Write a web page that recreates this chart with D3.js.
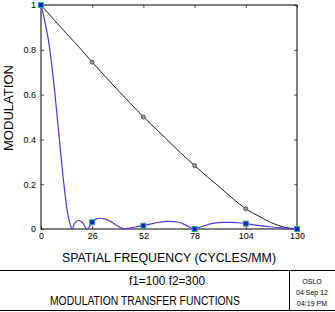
<!DOCTYPE html>
<html>
<head>
<meta charset="utf-8">
<script src="https://cdn.jsdelivr.net/npm/d3@7"></script>
<style>
body{margin:0;background:#fff;}
text{font-family:"Liberation Sans",Arial,sans-serif;fill:#000;}
</style>
</head>
<body>
<div id="chart"></div>
<script>
// tick values
var freqTicks=[0,26,52,78,104,130];
var modTicks=[0,0.2,0.4,0.6,0.8,1];

// diffraction limit curve (black)
var diffFreq=[0,6.5,13,19.5,26,32.5,39,45.5,52,58.5,65,71.5,78,84.5,91,97.5,104,110.5,117,123.5,130];
var diffMod=[1,0.935,0.872,0.81,0.745,0.682,0.62,0.56,0.5,0.446,0.39,0.335,0.283,0.233,0.185,0.135,0.09,0.058,0.028,0.008,0];

// real system curve (blue)
var mtfFreq=[0,1,2,3,4,5,6,7,8,9,10,11,12,13,14,15,15.8,17,19,21,23.4,26,28,30,33,36,39,42,45,48,52,56,60,64,68,71,74,77,78,80,84,88,92,96,100,104,110,116,122,126,130];
var mtfMod=[1,0.965,0.925,0.88,0.83,0.765,0.69,0.61,0.52,0.43,0.34,0.25,0.17,0.1,0.05,0.015,0,0.025,0.038,0.03,0,0.03,0.045,0.048,0.043,0.03,0.013,0,0.004,0.009,0.015,0.023,0.03,0.034,0.033,0.028,0.015,0.002,0,0.006,0.018,0.026,0.03,0.03,0.028,0.024,0.016,0.01,0.005,0.002,0];

// marker points
var markFreq=[0,26,52,78,104,130];
var diffMark=[1,0.745,0.5,0.283,0.09,0];
var mtfMark=[1,0.03,0.015,0,0.024,0];

var width=335, height=312;
var plotL=41, plotR=297, plotT=5, plotB=229;

var svg=d3.select("#chart").append("svg")
  .attr("width",width)
  .attr("height",height);

svg.append("rect").attr("width",width).attr("height",height).attr("fill","#fff");

var x=d3.scaleLinear().domain([0,130]).range([plotL,plotR]);
var y=d3.scaleLinear().domain([0,1]).range([plotB,plotT]);

// axes with inward ticks
var fmt=function(d){return String(d);};
svg.append("g").attr("class","axis")
  .attr("transform","translate("+plotL+",0)")
  .call(d3.axisLeft(y).tickValues(modTicks).tickSize(-3).tickPadding(5).tickFormat(fmt));
svg.append("g").attr("class","axis")
  .attr("transform","translate("+plotR+",0)")
  .call(d3.axisRight(y).tickValues(modTicks).tickSize(-3).tickFormat(""));
svg.append("g").attr("class","axis")
  .attr("transform","translate(0,"+plotB+")")
  .call(d3.axisBottom(x).tickValues(freqTicks).tickSize(-3).tickPadding(4).tickFormat(fmt));
svg.append("g").attr("class","axis")
  .attr("transform","translate(0,"+plotT+")")
  .call(d3.axisTop(x).tickValues(freqTicks).tickSize(-3).tickFormat(""));

svg.selectAll(".axis .domain").remove();
svg.selectAll(".axis line").attr("stroke","#555");
svg.selectAll(".axis text").style("font-size","9px").attr("fill","#000");

// frame
svg.append("rect")
  .attr("x",plotL).attr("y",plotT)
  .attr("width",plotR-plotL).attr("height",plotB-plotT)
  .attr("fill","none").attr("stroke","#000").attr("stroke-width",1);

var line=d3.line()
  .x(function(d){return x(d[0]);})
  .y(function(d){return y(d[1]);})
  .curve(d3.curveMonotoneX);

svg.append("path")
  .datum(diffFreq.map(function(f,i){return [f,diffMod[i]];}))
  .attr("d",line)
  .attr("fill","none")
  .attr("stroke","#000")
  .attr("stroke-width",0.9);

svg.append("path")
  .datum(mtfFreq.map(function(f,i){return [f,mtfMod[i]];}))
  .attr("d",line)
  .attr("fill","none")
  .attr("stroke","#5a2ee0")
  .attr("stroke-width",1.2);

// black circle markers
svg.selectAll(".dmark")
  .data(markFreq)
  .enter()
  .append("circle")
  .attr("class","dmark")
  .attr("cx",function(d){return x(d);})
  .attr("cy",function(d,i){return y(diffMark[i]);})
  .attr("r",2)
  .attr("fill","#999")
  .attr("stroke","#444")
  .attr("stroke-width",0.8);

// blue square markers
svg.selectAll(".mmark")
  .data(markFreq)
  .enter()
  .append("rect")
  .attr("class","mmark")
  .attr("x",function(d){return x(d)-2.5;})
  .attr("y",function(d,i){return y(mtfMark[i])-2.5;})
  .attr("width",5)
  .attr("height",5)
  .attr("fill","#1a1adc")
  .attr("stroke","#2cb08c")
  .attr("stroke-width",1);

// axis titles
svg.append("text")
  .attr("transform","translate(13,108) rotate(-90)")
  .attr("text-anchor","middle")
  .attr("textLength",86)
  .attr("lengthAdjust","spacingAndGlyphs")
  .style("font-size","12px")
  .text("MODULATION");

svg.append("text")
  .attr("x",169)
  .attr("y",262)
  .attr("text-anchor","middle")
  .attr("textLength",214)
  .attr("lengthAdjust","spacingAndGlyphs")
  .style("font-size","12px")
  .text("SPATIAL FREQUENCY (CYCLES/MM)");

// title block
svg.append("line").attr("x1",0).attr("x2",width).attr("y1",270.5).attr("y2",270.5).attr("stroke","#000");
svg.append("line").attr("x1",0).attr("x2",width).attr("y1",310.5).attr("y2",310.5).attr("stroke","#000");
svg.append("line").attr("x1",289.5).attr("x2",289.5).attr("y1",270).attr("y2",311).attr("stroke","#000");

svg.append("text")
  .attr("x",167).attr("y",285)
  .attr("text-anchor","middle")
  .attr("textLength",76)
  .attr("lengthAdjust","spacingAndGlyphs")
  .style("font-size","12px")
  .text("f1=100 f2=300");

svg.append("text")
  .attr("x",145).attr("y",305)
  .attr("text-anchor","middle")
  .attr("textLength",190)
  .attr("lengthAdjust","spacingAndGlyphs")
  .style("font-size","12px")
  .text("MODULATION TRANSFER FUNCTIONS");

var stamp=["OSLO","04 Sep 12","04:19 PM"];
svg.selectAll(".stamp")
  .data(stamp)
  .enter()
  .append("text")
  .attr("class","stamp")
  .attr("x",312)
  .attr("y",function(d,i){return 284+i*11;})
  .attr("text-anchor","middle")
  .style("font-size","7px")
  .text(function(d){return d;});
</script>
</body>
</html>
